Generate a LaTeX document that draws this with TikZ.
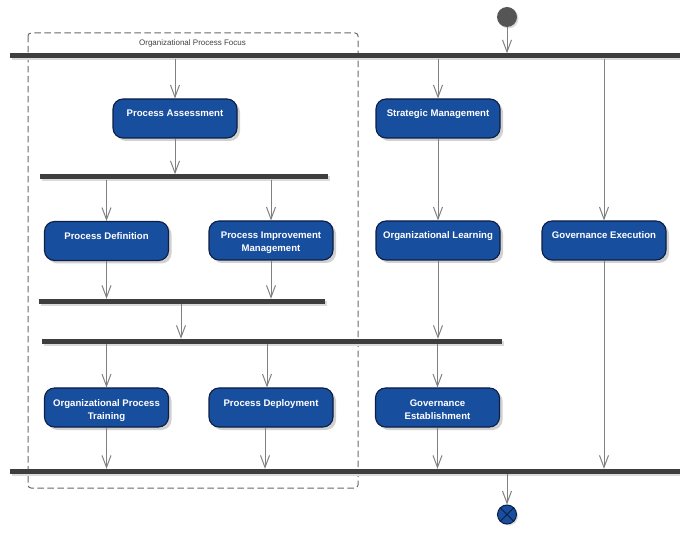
\documentclass[tikz,border=0pt]{standalone}
\usepackage{fontspec}
\setmainfont{Liberation Sans}
\usetikzlibrary{arrows.meta,shadows}
\definecolor{actfill}{RGB}{24,78,158}
\definecolor{actline}{RGB}{14,30,68}
\definecolor{barcol}{RGB}{62,62,62}
\definecolor{conn}{RGB}{128,128,128}
\definecolor{initcol}{RGB}{85,85,85}
\definecolor{framecol}{RGB}{105,105,105}
\newcommand\actt[1]{\parbox[c][39pt][t]{120pt}{\centering\rule{0pt}{18pt}#1\par}}
\tikzset{
  act/.style={rectangle, rounded corners=10pt, draw=actline, line width=1.1pt, fill=actfill,
    minimum width=124pt, minimum height=39pt, inner sep=0pt, text=white,
    font=\fontsize{9.6}{13}\selectfont\bfseries,
    drop shadow={shadow xshift=3pt, shadow yshift=-3pt, fill=black!18, opacity=1}},
  bar/.style={rectangle, fill=barcol, minimum height=5pt, inner sep=0pt,
    drop shadow={shadow xshift=2pt, shadow yshift=-2pt, fill=black!14, opacity=1}},
  arr/.style={draw=conn, line width=1pt, -{Straight Barb[length=12pt,width=9pt]}},
  frame/.style={draw=framecol, line width=1pt, dash pattern=on 6.5pt off 3.5pt, rounded corners=3pt}
}
\begin{document}
\begin{tikzpicture}[x=1pt,y=-1pt]
\useasboundingbox (0,0) rectangle (680,534);
% frame
\draw[frame] (28,33) rectangle (358,488);
\node[font=\fontsize{8}{9}\selectfont, text=black!75] (ttl) at (192.5,43) {Organizational Process Focus};
% bars
\node[bar, minimum width=670pt] (b1) at (345,56) {};
\node[bar, minimum width=288pt] (b2) at (184,177) {};
\node[bar, minimum width=286pt] (b3) at (182,301.5) {};
\node[bar, minimum width=460pt] (b4) at (272,341.5) {};
\node[bar, minimum width=670pt] (b5) at (345,471.5) {};
% initial / final
\node[circle, fill=initcol, minimum size=20pt, inner sep=0pt,
  drop shadow={shadow xshift=1.5pt, shadow yshift=-1.5pt, fill=black!14, opacity=1}] (ini) at (507,17) {};
\node[circle, fill=actfill, draw=actline, line width=1pt, minimum size=19pt, inner sep=0pt,
  drop shadow={shadow xshift=1.5pt, shadow yshift=-1.5pt, fill=black!14, opacity=1}] (fin) at (507,514.5) {};
\draw[actline, line width=1pt] (fin.north west) -- (fin.south east) (fin.north east) -- (fin.south west);
% activities
\node[act] (pa) at (175,118.5) {\actt{Process Assessment}};
\node[act] (sm) at (438,118.5) {\actt{Strategic Management}};
\node[act] (pdf) at (106.5,241) {\actt{Process Definition}};
\node[act] (pim) at (271,240.5) {\actt{Process Improvement\\Management}};
\node[act] (ol) at (438,240.5) {\actt{Organizational Learning}};
\node[act] (ge) at (604,240.5) {\actt{Governance Execution}};
\node[act] (opt) at (106.5,407.5) {\actt{Organizational Process\\Training}};
\node[act] (pdp) at (271,407.5) {\actt{Process Deployment}};
\node[act] (gest) at (437.5,407.5) {\actt{Governance\\Establishment}};
\coordinate (j1) at (181,301.5);
% connectors
\draw[arr] (ini.south) -- (b1.north -| ini.south);
\draw[arr] (b1.south -| pa.north) -- (pa.north);
\draw[arr] (b1.south -| sm.north) -- (sm.north);
\draw[arr] (b1.south -| ge.north) -- (ge.north);
\draw[arr] (pa.south) -- (b2.north -| pa.south);
\draw[arr] (b2.south -| pdf.north) -- (pdf.north);
\draw[arr] (b2.south -| pim.north) -- (pim.north);
\draw[arr] (sm.south) -- (ol.north);
\draw[arr] (pdf.south) -- (b3.north -| pdf.south);
\draw[arr] (pim.south) -- (b3.north -| pim.south);
\draw[arr] (b3.south -| j1) -- (b4.north -| j1);
\draw[arr] (ol.south) -- (b4.north -| ol.south);
\draw[arr] (b4.south -| opt.north) -- (opt.north);
\draw[arr] ([xshift=-4pt]b4.south -| pdp.north) -- ([xshift=-4pt]pdp.north);
\draw[arr] (b4.south -| gest.north) -- (gest.north);
\draw[arr] (opt.south) -- (b5.north -| opt.south);
\draw[arr] ([xshift=-6pt]pdp.south) -- ([xshift=-6pt]b5.north -| pdp.south);
\draw[arr] (gest.south) -- (b5.north -| gest.south);
\draw[arr] (ge.south) -- (b5.north -| ge.south);
\draw[arr] (b5.south -| fin.north) -- (fin.north);
\end{tikzpicture}
\end{document}
